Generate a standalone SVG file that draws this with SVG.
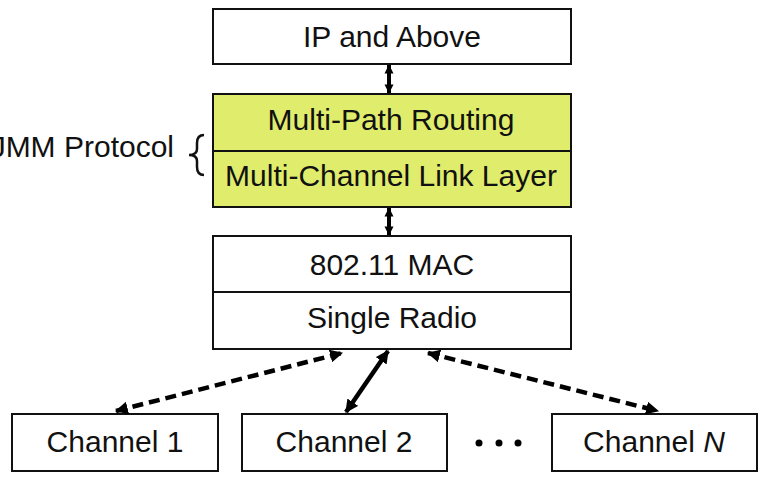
<svg xmlns="http://www.w3.org/2000/svg" width="760" height="479" viewBox="0 0 760 479">
<style>
.box{fill:#fff;stroke:#111;stroke-width:2}
.yel{fill:#E0EC6C;stroke:#111;stroke-width:2}
.t{font-family:"Liberation Sans",Arial,sans-serif;font-size:30px;fill:#111;text-anchor:middle}
.c{stroke:#000;stroke-width:4.5;fill:none}
.s{stroke:#000;stroke-width:4;fill:none}
.d{stroke-dasharray:11 6}
</style>
<defs>
<marker id="ah" viewBox="0 0 12 12" refX="11" refY="6" markerWidth="13" markerHeight="13" markerUnits="userSpaceOnUse" orient="auto-start-reverse">
<path d="M0,0 L12,6 L0,12 z" fill="#000"/>
</marker>
<marker id="as" viewBox="0 0 10 10" refX="9.5" refY="5" markerWidth="9" markerHeight="10" markerUnits="userSpaceOnUse" orient="auto-start-reverse">
<path d="M0,0 L10,5 L0,10 z" fill="#000"/>
</marker>
</defs>
<rect width="760" height="479" fill="#fff"/>
<g id="ip"><rect class="box" x="213" y="9" width="358" height="55"/><text class="t" x="392" y="47">IP and Above</text></g>
<g id="jmm">
<rect class="yel" x="213" y="94" width="358" height="57"/><text class="t" x="391" y="130">Multi-Path Routing</text>
<rect class="yel" x="213" y="151" width="358" height="56"/><text class="t" x="391" y="186">Multi-Channel Link Layer</text>
</g>
<g id="jmm-label">
<text class="t" x="174" y="157" style="text-anchor:end">JMM Protocol</text>
<path d="M204,135 Q197,135 197,143 L197,149 Q197,155 189,155 Q197,155 197,161 L197,167 Q197,175 204,175" fill="none" stroke="#111" stroke-width="2.5"/>
</g>
<g id="mac">
<rect class="box" x="213" y="236" width="358" height="56"/><text class="t" x="392" y="275">802.11 MAC</text>
<rect class="box" x="213" y="292" width="358" height="57"/><text class="t" x="392" y="328">Single Radio</text>
</g>
<g id="ch1"><rect class="box" x="12" y="414" width="206" height="57"/><text class="t" x="115" y="452">Channel 1</text></g>
<g id="ch2"><rect class="box" x="242" y="414" width="205" height="57"/><text class="t" x="344" y="452">Channel 2</text></g>
<g id="dots" fill="#000"><circle cx="479" cy="443" r="3.5"/><circle cx="499" cy="443" r="3.5"/><circle cx="518" cy="443" r="3.5"/></g>
<g id="chn"><rect class="box" x="552" y="414" width="205" height="57"/><text class="t" x="654" y="452">Channel <tspan font-style="italic">N</tspan></text></g>
<g id="connectors">
<line class="s" x1="389" y1="65" x2="389" y2="93" marker-start="url(#as)" marker-end="url(#as)"/>
<line class="s" x1="389" y1="208" x2="389" y2="235" marker-start="url(#as)" marker-end="url(#as)"/>
<line class="c d" x1="116" y1="411" x2="342" y2="353" marker-start="url(#ah)" marker-end="url(#ah)"/>
<line class="c" x1="346" y1="412" x2="388" y2="351" marker-start="url(#ah)" marker-end="url(#ah)"/>
<line class="c d" x1="428" y1="353" x2="658" y2="411" marker-start="url(#ah)" marker-end="url(#ah)"/>
</g>
</svg>
